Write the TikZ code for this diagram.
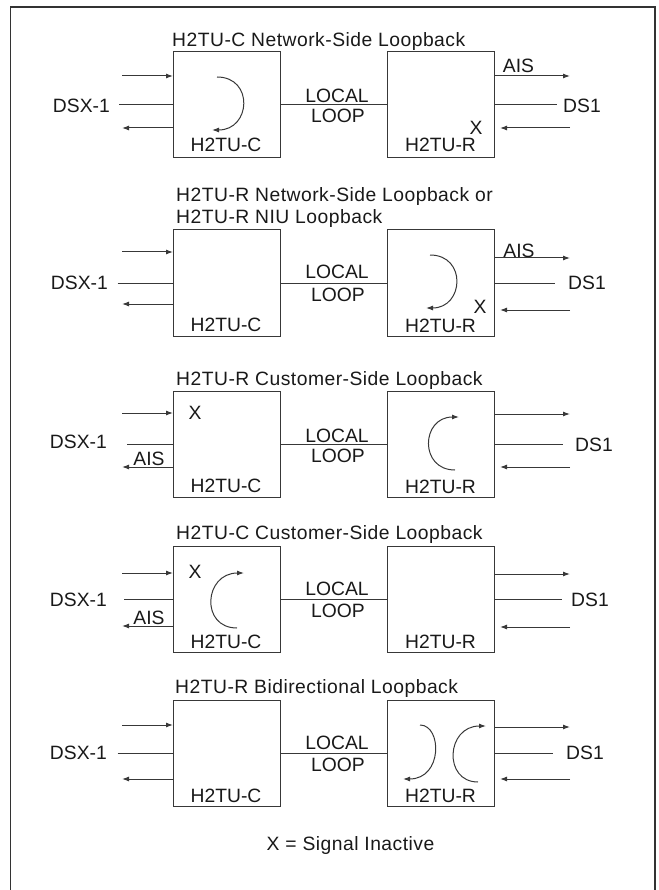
\documentclass[tikz,border=0pt]{standalone}
\usepackage{fontspec}
\setmainfont{Liberation Sans}
\newfontfamily\ttlfont[LetterSpace=2.5]{Liberation Sans}
\usetikzlibrary{arrows.meta}
\begin{document}
\begin{tikzpicture}[x=1pt,y=-1pt,
  ln/.style={draw=black!78, line width=1pt},
  arr/.style={ln,-{Latex[length=7pt,width=5pt]}},
  box/.style={draw=black!78, line width=1pt, minimum width=107pt, minimum height=106pt, inner sep=0pt, outer sep=0pt},
  lbl/.style={font=\fontsize{19.3}{22}\selectfont, text=black!90, inner sep=0pt},
  ttl/.style={font=\ttlfont\fontsize{19.3}{22}\selectfont, text=black!90, inner sep=0pt, anchor=base west, align=left},
]
\useasboundingbox (0,0) rectangle (658,890);
\draw[line width=1.4pt, black!80] (10.5,890) -- (10.5,7) -- (655,7) -- (655,890);

% ---------------- Diagram 1 ----------------
\node[ttl] (t1) at (172,47) {H2TU-C Network-Side Loopback};
\node[box] (C1) at (226.5,105) {};
\node[box] (R1) at (441,105) {};
\node[lbl] (c1l) at (226,145) {H2TU-C};
\node[lbl] (r1l) at (440.5,145) {H2TU-R};
\node[lbl, anchor=east] (dsx1) at (110,105.5) {DSX-1};
\node[lbl, anchor=west] (ds1a) at (563,106) {DS1};
\node[lbl] (loc1) at (337,95.5) {LOCAL};
\node[lbl] (loop1) at (338,116) {LOOP};
\node[lbl] (ais1) at (518.5,66) {AIS};
\node[lbl] (x1) at (476,128) {X};
\coordinate (L1a) at (122,76);
\coordinate (L1b) at (119,105);
\coordinate (L1c) at (122,128);
\coordinate (R1a) at (570,76);
\coordinate (R1b) at (557,105);
\coordinate (R1c) at (570,128);
\coordinate (R1d) at (500,128);
\draw[arr] (L1a) -- (L1a -| C1.west);
\draw[ln] (L1b) -- (C1.west);
\draw[arr] (L1c -| C1.west) -- (L1c);
\draw[ln] (C1.east) -- (R1.west);
\draw[arr] (R1a -| R1.east) -- (R1a);
\draw[ln] (R1.east) -- (R1b);
\draw[arr] (R1c) -- (R1d);
\coordinate (k1s) at (217,77);
\coordinate (k1e) at (212,130);
\draw[arr] (k1s) .. controls (254,77) and (251,130) .. (k1e);

% ---------------- Diagram 2 ----------------
\node[ttl] (t2) at (176,224) {H2TU-R Network-Side Loopback or\\H2TU-R NIU Loopback};
\node[box] (C2) at (226.5,283) {};
\node[box] (R2) at (441,283) {};
\node[lbl] (c2l) at (226,325) {H2TU-C};
\node[lbl] (r2l) at (440.5,326) {H2TU-R};
\node[lbl, anchor=east] (dsx2) at (108,283) {DSX-1};
\node[lbl, anchor=west] (ds2) at (568,283) {DS1};
\node[lbl] (loc2) at (337,272) {LOCAL};
\node[lbl] (loop2) at (338,294.5) {LOOP};
\node[lbl] (ais2) at (519,250.5) {AIS};
\node[lbl] (x2) at (480,306.5) {X};
\coordinate (L2a) at (122,252);
\coordinate (L2b) at (117.5,283);
\coordinate (L2c) at (122,304);
\coordinate (R2a) at (570,258);
\coordinate (R2b) at (555,283);
\coordinate (R2c) at (570,310);
\coordinate (R2d) at (500,310);
\draw[arr] (L2a) -- (L2a -| C2.west);
\draw[ln] (L2b) -- (C2.west);
\draw[arr] (L2c -| C2.west) -- (L2c);
\draw[ln] (C2.east) -- (R2.west);
\draw[arr] (R2a -| R2.east) -- (R2a);
\draw[ln] (R2.east) -- (R2b);
\draw[arr] (R2c) -- (R2d);
\coordinate (k2s) at (430,255);
\coordinate (k2e) at (426,308);
\draw[arr] (k2s) .. controls (467,255) and (464,308) .. (k2e);

% ---------------- Diagram 3 ----------------
\node[ttl] (t3) at (176,385) {H2TU-R Customer-Side Loopback};
\node[box] (C3) at (226.5,444) {};
\node[box] (R3) at (441,444) {};
\node[lbl] (c3l) at (226,486) {H2TU-C};
\node[lbl] (r3l) at (440.5,486.5) {H2TU-R};
\node[lbl, anchor=east] (dsx3) at (107,442) {DSX-1};
\node[lbl, anchor=west] (ds3) at (575,444.5) {DS1};
\node[lbl] (loc3) at (337,436) {LOCAL};
\node[lbl] (loop3) at (338,456) {LOOP};
\node[lbl] (ais3) at (149,459) {AIS};
\node[lbl] (x3) at (195,413) {X};
\coordinate (L3a) at (122,413);
\coordinate (L3b) at (127,444);
\coordinate (L3c) at (122,467);
\coordinate (R3a) at (570,414);
\coordinate (R3b) at (563,444);
\coordinate (R3c) at (570,467);
\coordinate (R3d) at (500,467);
\draw[arr] (L3a) -- (L3a -| C3.west);
\draw[ln] (L3b) -- (C3.west);
\draw[arr] (L3c -| C3.west) -- (L3c);
\draw[ln] (C3.east) -- (R3.west);
\draw[arr] (R3a -| R3.east) -- (R3a);
\draw[ln] (R3.east) -- (R3b);
\draw[arr] (R3c) -- (R3d);
\coordinate (k3s) at (455,470);
\coordinate (k3e) at (459,417);
\draw[arr] (k3s) .. controls (419,470) and (421,417) .. (k3e);

% ---------------- Diagram 4 ----------------
\node[ttl] (t4) at (176,539) {H2TU-C Customer-Side Loopback};
\node[box] (C4) at (226.5,599) {};
\node[box] (R4) at (441,599) {};
\node[lbl] (c4l) at (226,641.5) {H2TU-C};
\node[lbl] (r4l) at (440.5,642) {H2TU-R};
\node[lbl, anchor=east] (dsx4) at (107,599.5) {DSX-1};
\node[lbl, anchor=west] (ds4) at (571,599.5) {DS1};
\node[lbl] (loc4) at (337,589) {LOCAL};
\node[lbl] (loop4) at (338,610.5) {LOOP};
\node[lbl] (ais4) at (149,617.5) {AIS};
\node[lbl] (x4) at (195,572) {X};
\coordinate (L4a) at (122,573);
\coordinate (L4b) at (124,599);
\coordinate (L4c) at (122,626);
\coordinate (R4a) at (570,574);
\coordinate (R4b) at (562,599);
\coordinate (R4c) at (570,627);
\coordinate (R4d) at (500,627);
\draw[arr] (L4a) -- (L4a -| C4.west);
\draw[ln] (L4b) -- (C4.west);
\draw[arr] (L4c -| C4.west) -- (L4c);
\draw[ln] (C4.east) -- (R4.west);
\draw[arr] (R4a -| R4.east) -- (R4a);
\draw[ln] (R4.east) -- (R4b);
\draw[arr] (R4c) -- (R4d);
\coordinate (k4s) at (237,628);
\coordinate (k4e) at (244,573);
\draw[arr] (k4s) .. controls (200,628) and (204,573) .. (k4e);

% ---------------- Diagram 5 ----------------
\node[ttl] (t5) at (175,693) {H2TU-R Bidirectional Loopback};
\node[box] (C5) at (226.5,753) {};
\node[box] (R5) at (441,753) {};
\node[lbl] (c5l) at (226,796) {H2TU-C};
\node[lbl] (r5l) at (440.5,796) {H2TU-R};
\node[lbl, anchor=east] (dsx5) at (107,753) {DSX-1};
\node[lbl, anchor=west] (ds5) at (566,753) {DS1};
\node[lbl] (loc5) at (337,743) {LOCAL};
\node[lbl] (loop5) at (338,765) {LOOP};
\coordinate (L5a) at (122,725);
\coordinate (L5b) at (117.5,753);
\coordinate (L5c) at (122,779);
\coordinate (R5a) at (570,727);
\coordinate (R5b) at (553,753);
\coordinate (R5c) at (570,779);
\coordinate (R5d) at (500,779);
\draw[arr] (L5a) -- (L5a -| C5.west);
\draw[ln] (L5b) -- (C5.west);
\draw[arr] (L5c -| C5.west) -- (L5c);
\draw[ln] (C5.east) -- (R5.west);
\draw[arr] (R5a -| R5.east) -- (R5a);
\draw[ln] (R5.east) -- (R5b);
\draw[arr] (R5c) -- (R5d);
\coordinate (k5s) at (420,725);
\coordinate (k5e) at (403,779);
\draw[arr] (k5s) .. controls (442,725) and (443,779) .. (k5e);
\coordinate (k6s) at (478,782);
\coordinate (k6e) at (486,726);
\draw[arr] (k6s) .. controls (443,782) and (446,726) .. (k6e);

\node[ttl, anchor=center] (legend) at (350.5,845) {X = Signal Inactive};
\end{tikzpicture}
\end{document}
